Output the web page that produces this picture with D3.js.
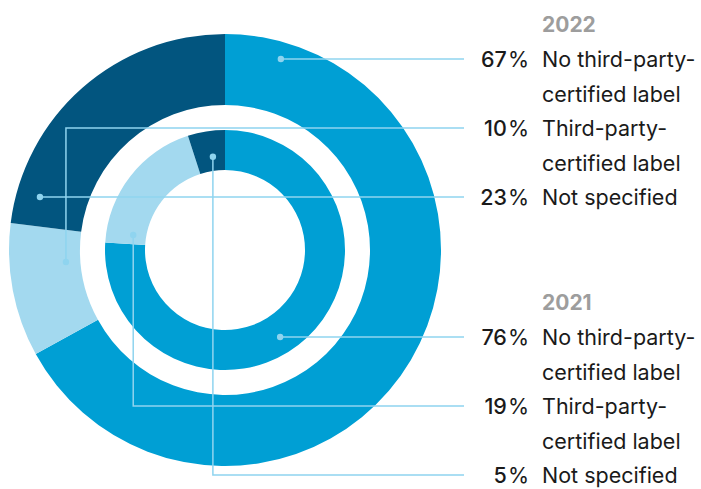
<!DOCTYPE html>
<html>
<head>
<meta charset="utf-8">
<script src="https://cdn.jsdelivr.net/npm/d3@7"></script>
<style>
  body { margin: 0; background: #fff; }
  svg { display: block; font-family: Inter, "Noto Sans", sans-serif; }
</style>
</head>
<body>
<div id="chart"></div>
<script>
// data
const years = ["2022", "2021"];
const categories = ["No third-party-certified label", "Third-party-certified label", "Not specified"];
const categoryLines = [["No third-party-", "certified label"], ["Third-party-", "certified label"], ["Not specified"]];
const values2022 = [67, 10, 23];
const values2021 = [76, 19, 5];

const width = 701, height = 489;
const cx = 225, cy = 250;

const colors = d3.scaleOrdinal()
  .domain(categories)
  .range(["#009fd4", "#a3d9ef", "#02557f"]);
const lineColor = "#8fd4ef";

// ring geometry per year
const rings = [
  { year: years[0], values: values2022, inner: 145, outer: 216, top: 59 },
  { year: years[1], values: values2021, inner: 80, outer: 120, top: 337 }
];

// where the leader starts on each slice: horizontal ones sit on the label row at radius r,
// elbow ones start at an angle (deg) and go vertical to the row
const anchors = [
  [{ type: "h", r: 199 }, { type: "v", a: 265.7, r: 159.5 }, { type: "h", r: 192.5 }],
  [{ type: "h", r: 103 }, { type: "v", a: 279.3, r: 93 }, { type: "v", a: 352.6, r: 94 }]
];

const rowStep = 69, lineStep = 34.5;
const lineEnd = 464, numX = 529, textX = 542;

const svg = d3.select("#chart").append("svg")
  .attr("width", width)
  .attr("height", height);

const pie = d3.pie().sort(null).value(d => d);

const g = svg.append("g").attr("transform", `translate(${cx},${cy})`);

rings.forEach(ring => {
  const arc = d3.arc().innerRadius(ring.inner).outerRadius(ring.outer);
  g.append("g").selectAll("path")
    .data(pie(ring.values))
    .join("path")
    .attr("d", arc)
    .attr("fill", (d, i) => colors(categories[i]));
});

// leaders + labels
const leaders = svg.append("g");
const labels = svg.append("g");

rings.forEach((ring, ri) => {
  const rowY = d3.scaleLinear().domain([0, 1]).range([ring.top, ring.top + rowStep]);

  labels.append("text")
    .attr("x", textX)
    .attr("y", ring.top - 27)
    .attr("fill", "#9d9d9d")
    .attr("font-size", 21)
    .attr("font-weight", 700)
    .text(ring.year);

  ring.values.forEach((v, i) => {
    const y = rowY(i);
    const an = anchors[ri][i];
    let dot, path;
    if (an.type === "h") {
      const dy = y - cy;
      const dx = Math.sqrt(an.r * an.r - dy * dy);
      const side = i === 0 ? 1 : -1;
      dot = [cx + side * dx, y];
      path = d3.path();
      path.moveTo(dot[0], dot[1]);
      path.lineTo(lineEnd, y);
    } else {
      const a = an.a * Math.PI / 180;
      dot = [cx + Math.sin(a) * an.r, cy - Math.cos(a) * an.r];
      path = d3.path();
      path.moveTo(dot[0], dot[1]);
      path.lineTo(dot[0], y);
      path.lineTo(lineEnd, y);
    }
    leaders.append("path")
      .attr("d", path.toString())
      .attr("fill", "none")
      .attr("stroke", lineColor)
      .attr("stroke-width", 1.5);
    leaders.append("circle")
      .attr("cx", dot[0])
      .attr("cy", dot[1])
      .attr("r", 3.2)
      .attr("fill", lineColor);

    const num = labels.append("text")
      .attr("x", numX)
      .attr("y", y + 8)
      .attr("text-anchor", "end")
      .attr("font-size", 21.5)
      .attr("fill", "#1a1a1a");
    num.append("tspan").attr("font-weight", 500).text(v);
    num.append("tspan").attr("dx", 1).attr("font-weight", 400).text("%");

    const t = labels.append("text")
      .attr("x", textX)
      .attr("y", y + 8)
      .attr("font-size", 21.5)
      .attr("fill", "#1a1a1a");
    categoryLines[i].forEach((ln, k) => {
      t.append("tspan")
        .attr("x", textX)
        .attr("dy", k === 0 ? 0 : lineStep)
        .text(ln);
    });
  });
});
</script>
</body>
</html>
